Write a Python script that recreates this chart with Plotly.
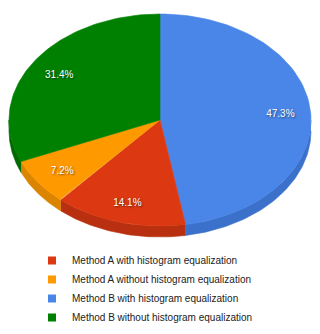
import numpy as np
import plotly.graph_objects as go

# ---- data ----
labels = [
    "Method A with histogram equalization",
    "Method A without histogram equalization",
    "Method B with histogram equalization",
    "Method B without histogram equalization",
]
values = [14.1, 7.2, 47.3, 31.4]
top_colors = ["#DC3912", "#FF9900", "#4A86E8", "#008000"]
side_colors = ["#B8300F", "#DB8400", "#3B71CB", "#006A00"]
slice_order = [2, 0, 1, 3]  # clockwise from 12 o'clock

# ---- geometry (pixel space) ----
W, H = 320, 334
cx, cy, rx, ry, depth = 160, 120, 151, 106, 11
FONT = "Liberation Sans, Arial, sans-serif"


def arc(a0, a1, dy=0.0, n=80):
    t = np.radians(np.linspace(a0, a1, n))
    return cx + rx * np.sin(t), cy - ry * np.cos(t) + dy


total = float(sum(values))
spans = {}
start = 0.0
for i in slice_order:
    a1 = start + values[i] / total * 360.0
    spans[i] = (start, a1)
    start = a1

fig = go.Figure()

# sides (visible lower half of the ellipse)
for i in slice_order:
    a0, a1 = spans[i]
    s0, s1 = max(a0, 90.0), min(a1, 270.0)
    if s1 <= s0:
        continue
    xt, yt = arc(s0, s1)
    xb, yb = arc(s0, s1, depth)
    xs = np.concatenate([xt, xb[::-1]])
    ys = np.concatenate([yt, yb[::-1]])
    fig.add_trace(go.Scatter(x=xs, y=ys, fill="toself", mode="lines",
                             fillcolor=side_colors[i],
                             line=dict(color=side_colors[i], width=0.6),
                             hoverinfo="skip", showlegend=False))

# top faces
for i in slice_order:
    a0, a1 = spans[i]
    xa, ya = arc(a0, a1)
    xs = np.concatenate([[cx], xa, [cx]])
    ys = np.concatenate([[cy], ya, [cy]])
    fig.add_trace(go.Scatter(x=xs, y=ys, fill="toself", mode="lines",
                             fillcolor=top_colors[i],
                             line=dict(color=top_colors[i], width=0.6),
                             hoverinfo="skip", showlegend=False))

# percentage labels
lx, ly, lt = [], [], []
for i in slice_order:
    a0, a1 = spans[i]
    m = np.radians((a0 + a1) / 2)
    lx.append(cx + 0.8 * rx * np.sin(m))
    ly.append(cy - 0.8 * ry * np.cos(m) + 2)
    lt.append(f"{values[i] / total * 100:.1f}%")
fig.add_trace(go.Scatter(x=lx, y=ly, text=lt, mode="text",
                         textposition="middle center",
                         textfont=dict(color="white", size=10, family=FONT,
                                       shadow="1px 1px 2px rgba(0,0,0,0.55)"),
                         hoverinfo="skip", showlegend=False))

# legend entries
for i, name in enumerate(labels):
    fig.add_trace(go.Scatter(x=[None], y=[None], mode="markers", name=name,
                             marker=dict(symbol="square", size=8,
                                         color=top_colors[i])))

fig.update_layout(
    width=W, height=H,
    margin=dict(l=0, r=0, t=0, b=0),
    paper_bgcolor="white", plot_bgcolor="white",
    xaxis=dict(range=[0, W], visible=False, fixedrange=True),
    yaxis=dict(range=[H, 0], visible=False, fixedrange=True),
    legend=dict(x=32 / W, y=1 - 246 / H, xanchor="left", yanchor="top",
                font=dict(size=10, family=FONT, color="#222222"),
                bgcolor="rgba(0,0,0,0)", tracegroupgap=0),
    showlegend=True,
)

fig.write_html("out.html", config={"displayModeBar": False},
               post_script="document.body.style.margin='0';")
